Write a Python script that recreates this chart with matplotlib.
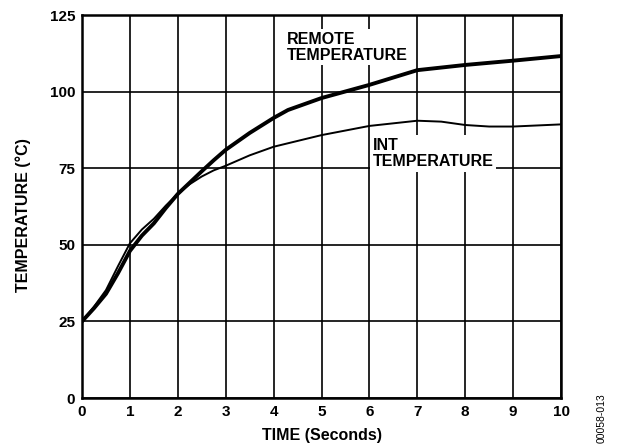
import matplotlib.pyplot as plt

plt.rcParams['font.family'] = ['Liberation Sans', 'DejaVu Sans']

# data
time_remote = [0, 0.25, 0.5, 0.75, 1, 1.25, 1.5, 1.75, 2, 2.25, 2.5, 2.75, 3, 3.5, 4, 4.3, 5, 6, 7, 8, 9, 10]
temp_remote = [25, 29.3, 34, 40.7, 48, 53, 57, 62, 66.6, 70.3, 74, 77.6, 81, 86.5, 91.4, 94, 97.9, 102.2, 107, 108.7, 110.1, 111.6]

time_int = [0, 0.25, 0.5, 0.75, 1, 1.25, 1.5, 1.75, 2, 2.25, 2.5, 2.75, 3, 3.5, 4, 5, 6, 7, 7.5, 8, 8.5, 9, 10]
temp_int = [25, 29.8, 35.2, 43, 50.5, 55, 58.5, 62.8, 66.6, 69.8, 72.3, 74.3, 75.8, 79.2, 82, 85.8, 88.8, 90.5, 90.2, 89.1, 88.6, 88.6, 89.3]

x_ticks = list(range(0, 11))
y_ticks = [0, 25, 50, 75, 100, 125]

fig = plt.figure(figsize=(6.18, 4.48), dpi=100)
ax = fig.add_axes([0.1327, 0.1116, 0.7751, 0.8549])

ax.plot(time_remote, temp_remote, color='black', linewidth=2.8, zorder=3,
        solid_capstyle='round', solid_joinstyle='round')
ax.plot(time_int, temp_int, color='black', linewidth=1.4, zorder=3,
        solid_joinstyle='round')

ax.set_xlim(0, 10)
ax.set_ylim(0, 125)
ax.set_xticks(x_ticks)
ax.set_yticks(y_ticks)
ax.grid(True, color='black', linewidth=1.2, zorder=1)
ax.set_axisbelow(True)
ax.tick_params(length=0, pad=5, labelsize=11)
for lab in ax.get_xticklabels() + ax.get_yticklabels():
    lab.set_fontweight('bold')
for sp in ax.spines.values():
    sp.set_linewidth(1.8)

ax.set_xlabel('TIME (Seconds)', fontsize=11.5, fontweight='bold', labelpad=6.5)
ax.set_ylabel('TEMPERATURE (°C)', fontsize=11.5, fontweight='bold')
ax.yaxis.set_label_coords(-0.106, 0.478)

box = dict(facecolor='white', edgecolor='none', pad=2)
ax.text(4.28, 119.6, 'REMOTE\nTEMPERATURE', fontsize=11.5, fontweight='bold',
        va='top', ha='left', linespacing=1.1, bbox=box, zorder=4)
ax.text(6.07, 84.9, 'INT\nTEMPERATURE', fontsize=11.5, fontweight='bold',
        va='top', ha='left', linespacing=1.1, bbox=box, zorder=4)

fig.text(0.974, 0.011, '00058-013', rotation=90, fontsize=7.5,
         ha='center', va='bottom')

fig.savefig('out.png', dpi=100)
